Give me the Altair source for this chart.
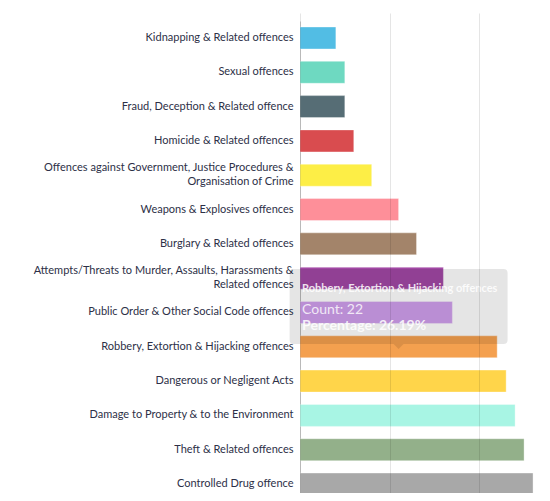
import altair as alt
import pandas as pd

categories = [
    "Kidnapping & Related offences",
    "Sexual offences",
    "Fraud, Deception & Related offence",
    "Homicide & Related offences",
    "Offences against Government, Justice Procedures & Organisation of Crime",
    "Weapons & Explosives offences",
    "Burglary & Related offences",
    "Attempts/Threats to Murder, Assaults, Harassments & Related offences",
    "Public Order & Other Social Code offences",
    "Robbery, Extortion & Hijacking offences",
    "Dangerous or Negligent Acts",
    "Damage to Property & to the Environment",
    "Theft & Related offences",
    "Controlled Drug offence",
]
counts = [4, 5, 5, 6, 8, 11, 13, 16, 17, 22, 23, 24, 25, 26]
colors = [
    "#52bde4", "#6ed9c1", "#566d75", "#d94c4f", "#fdee46", "#fe8f99", "#a3846a",
    "#a248a5", "#d09fec", "#f4a04f", "#ffd54a", "#a8f5e4", "#93b08a", "#a8a8a8",
]
wrapped = {
    "Offences against Government, Justice Procedures & Organisation of Crime":
        ["Offences against Government, Justice Procedures &", "Organisation of Crime"],
    "Attempts/Threats to Murder, Assaults, Harassments & Related offences":
        ["Attempts/Threats to Murder, Assaults, Harassments &", "Related offences"],
}
hovered = "Robbery, Extortion & Hijacking offences"
hovered_pct = "26.19%"

df = pd.DataFrame({"category": categories, "count": counts})

label_expr = "datum.label"
for full, lines in wrapped.items():
    arr = "[" + ", ".join("'" + l + "'" for l in lines) + "]"
    label_expr = f"datum.label == '{full}' ? {arr} : ({label_expr})"
wrap_test = " || ".join(f"datum.value == '{full}'" for full in wrapped)

y_scale = alt.Scale(paddingInner=0.36, paddingOuter=0.175, range=[0, 480])

y_enc = alt.Y(
    "category:N",
    sort=categories,
    scale=y_scale,
    axis=alt.Axis(
        title=None, ticks=False, labelPadding=7, labelFont="Lato",
        labelFontSize=11, labelColor="#2d3047", labelLimit=300,
        labelExpr=label_expr, domainColor="#cfcfcf", labelLineHeight=14,
        labelOffset={"condition": {"test": wrap_test, "value": -7}, "value": 0},
    ),
)
x_enc = alt.X(
    "count:Q",
    scale=alt.Scale(domain=[0, 27], nice=False),
    axis=alt.Axis(
        title=None, values=[0, 10, 20], gridColor="#000000", gridOpacity=0.1,
        domain=False, ticks=False, labels=False, zindex=1,
    ),
)

bars = alt.Chart(df).mark_bar(
    stroke="white", strokeOpacity=0.35, strokeWidth=1
).encode(
    x=x_enc,
    y=y_enc,
    color=alt.Color("category:N", scale=alt.Scale(domain=categories, range=colors), legend=None),
)

tip_path = (
    "M -0.963 -0.713 L 0.963 -0.713 Q 1 -0.713 1 -0.676 L 1 -0.062 "
    "Q 1 -0.025 0.963 -0.025 L 0.046 -0.025 L 0 0.021 L -0.046 -0.025 "
    "L -0.963 -0.025 Q -1 -0.025 -1 -0.062 L -1 -0.676 Q -1 -0.713 -0.963 -0.713 Z"
)

tip_base = alt.Chart(df).transform_filter(
    alt.datum.category == hovered
).transform_calculate(
    mid="datum.count / 2",
    line_count="'Count: ' + datum.count",
    line_pct=f"'Percentage: ' + '{hovered_pct}'",
)

y_tip = alt.Y("category:N", sort=categories, scale=y_scale)

tip_box = tip_base.mark_point(
    shape=tip_path, size=218 * 218, filled=True, fill="#000000",
    fillOpacity=0.1, opacity=1, strokeWidth=0,
).encode(x=alt.X("mid:Q"), y=y_tip)

tip_title = tip_base.mark_text(
    align="left", baseline="middle", dx=-96.5, dy=-58, font="Lato",
    fontSize=11, fontWeight="bold", color="white", opacity=0.85,
).encode(x="mid:Q", y=y_tip, text="category:N")

tip_count = tip_base.mark_text(
    align="left", baseline="middle", dx=-96.5, dy=-36.5, font="Lato",
    fontSize=14, color="white", opacity=0.8,
).encode(x="mid:Q", y=y_tip, text="line_count:N")

tip_pct = tip_base.mark_text(
    align="left", baseline="middle", dx=-96.5, dy=-21, font="Lato",
    fontSize=14, fontWeight="bold", color="white", opacity=0.85,
).encode(x="mid:Q", y=y_tip, text="line_pct:N")

chart = alt.layer(bars, tip_box, tip_title, tip_count, tip_pct).properties(
    width=242, height=472,
    autosize=alt.AutoSizeParams(type="none"),
    padding={"left": 292, "top": 13, "right": 0, "bottom": 0},
).configure_view(stroke=None)

chart.save("out.html", embed_options={"renderer": "svg", "actions": False})
